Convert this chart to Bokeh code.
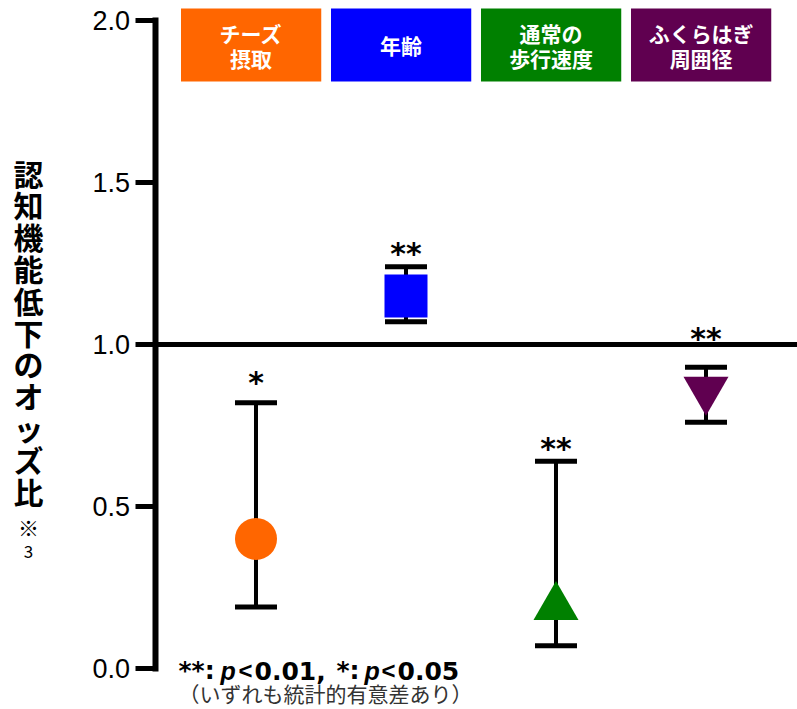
from bokeh.plotting import figure
from bokeh.models import Range1d, FixedTicker, Whisker, ColumnDataSource, TeeHead
from bokeh.core.properties import value
from bokeh.embed import file_html
from bokeh.resources import INLINE

# ---- data ----
categories = ["チーズ\n摂取", "年齢", "通常の\n歩行速度", "ふくらはぎ\n周囲径"]
odds_ratio = [0.40, 1.15, 0.19, 0.86]
ci_low = [0.19, 1.07, 0.07, 0.76]
ci_high = [0.82, 1.24, 0.64, 0.93]
signif = ["*", "**", "**", "**"]
star_y = [0.883, 1.281, 0.679, 1.0185]
ref_value = 1.0
y_ticks = [0.0, 0.5, 1.0, 1.5, 2.0]
y_tick_labels = ["0.0", "0.5", "1.0", "1.5", "2.0"]
y_label = "認知機能低下のオッズ比"
note_pieces = ["**:", "p", "<", "0.01,", "*:", "p", "<", "0.05"]
note_kind = ["b", "i", "s", "b", "b", "i", "s", "b"]
note_stat = "（いずれも統計的有意差あり）"

# ---- styles ----
colors = ["#FF6600", "#0000FF", "#008000", "#600050"]
markers = ["circle", "square", "triangle", "inverted_triangle"]
marker_sizes = [42, 43, 45, 45]

xs = list(range(len(categories)))
X0, X1 = -1.70333, 3.61
Y0, Y1 = -0.12654, 2.06173
axis_x = -0.67333
PX = 1 / 324.0  # one pixel in y data units

p = figure(width=797, height=709, x_range=Range1d(X0, X1), y_range=Range1d(Y0, Y1),
           output_backend="svg", toolbar_location=None,
           x_axis_location=None, y_axis_location="left",
           min_border=0, min_border_left=0, min_border_right=0,
           min_border_top=0, min_border_bottom=0)
p.outline_line_color = None
p.xgrid.visible = False
p.ygrid.visible = False
p.background_fill_color = "white"
p.border_fill_color = "white"

ax = p.yaxis[0]
ax.fixed_location = axis_x
ax.bounds = (0, 2)
ax.ticker = FixedTicker(ticks=y_ticks)
ax.major_label_overrides = {t: l for t, l in zip(y_ticks, y_tick_labels)}
ax.axis_line_width = 6
ax.axis_line_cap = "square"
ax.major_tick_line_width = 5
ax.major_tick_out = 20
ax.major_tick_in = 0
ax.minor_tick_line_color = None
ax.major_label_standoff = 5
ax.major_label_text_font = "Liberation Sans"
ax.major_label_text_font_size = "27px"
ax.major_label_text_color = "black"

# reference line at OR = 1
p.segment(x0=[axis_x], y0=[ref_value], x1=[X1], y1=[ref_value],
          line_width=5, line_color="black")

src = ColumnDataSource(dict(x=xs, y=odds_ratio, low=ci_low, high=ci_high,
                            color=colors, marker=markers, size=marker_sizes))

wh = Whisker(source=src, base="x", upper="high", lower="low",
             line_width=4, line_color="black", level="underlay",
             upper_head=TeeHead(size=42, line_width=5, line_color="black"),
             lower_head=TeeHead(size=42, line_width=5, line_color="black"))
p.add_layout(wh)

p.scatter(x="x", y="y", marker="marker", size="size", fill_color="color",
          line_color=None, source=src)

# significance stars
p.text(x=xs, y=star_y, text=signif, text_font=value("DejaVu Sans"),
       text_font_style="bold", text_font_size="30px", text_align="center",
       text_baseline="alphabetic", text_color="black")

# category boxes
box_l = [x - 0.5 for x in xs]
box_r = [x + 0.435 for x in xs]
box_top = Y1 - 8 * PX
box_bot = Y1 - 81 * PX
p.quad(left=box_l, right=box_r, top=box_top, bottom=box_bot,
       fill_color=colors, line_color=None)
lab_xs, lab_ys, lab_txt = [], [], []
mid = (box_top + box_bot) / 2
for l, r, cat in zip(box_l, box_r, categories):
    lines = cat.split("\n")
    n = len(lines)
    for k, line in enumerate(lines):
        lab_xs.append((l + r) / 2)
        lab_ys.append(mid - (k - (n - 1) / 2) * 25 * PX)
        lab_txt.append(line)
p.text(x=lab_xs, y=lab_ys, text=lab_txt,
       text_font=value("Noto Sans CJK JP"), text_font_style="bold",
       text_font_size="21px", text_align="center",
       text_baseline="middle", text_color="white")

# vertical y label (one character per line)
lab_x = -1.5167
top_c = Y1 - 172 * PX
chars = list(y_label)
p.text(x=[lab_x] * len(chars), y=[top_c - k * 31.8 * PX for k in range(len(chars))],
       text=chars, text_font=value("Noto Sans CJK JP"), text_font_style="bold",
       text_font_size="30px", text_align="center",
       text_baseline="middle", text_color="black")
p.text(x=[lab_x], y=[Y1 - 526 * PX], text=["※"], text_font=value("Noto Sans CJK JP"),
       text_font_size="21px", text_align="center", text_baseline="middle",
       text_color="black")
p.text(x=[lab_x], y=[Y1 - 551 * PX], text=["3"], text_font=value("Noto Sans CJK JP"),
       text_font_size="17px", text_align="center", text_baseline="middle",
       text_color="black")

# footnote
note_x = -0.5167
offs = [0, 42, 60, 76, 158, 186, 203, 219]
kinds = {"b": ("DejaVu Sans", "bold", "25px"),
         "i": ("Liberation Sans", "bold italic", "25px"),
         "s": ("Liberation Sans", "bold", "24px")}
for kind, (font, style, size) in kinds.items():
    sel = [i for i, k in enumerate(note_kind) if k == kind]
    p.text(x=[note_x] * len(sel), y=[Y1 - 670 * PX] * len(sel),
           text=[note_pieces[i] for i in sel], x_offset=[offs[i] for i in sel],
           text_font=value(font), text_font_style=style,
           text_font_size=size, text_align="left", text_baseline="middle",
           text_color="black")
p.text(x=[note_x], y=[Y1 - 692 * PX], text=[note_stat],
       text_font=value("Noto Sans CJK JP"), text_font_size="21px",
       text_align="left", text_baseline="middle", text_color="#333333")

open("out.html", "w").write(file_html(p, INLINE))
